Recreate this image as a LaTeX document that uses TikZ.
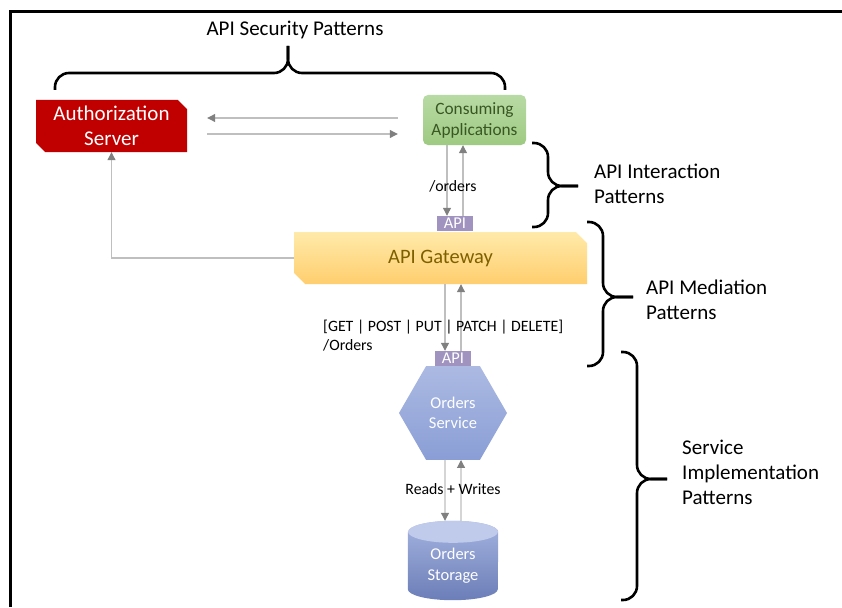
\documentclass[tikz,border=0pt]{standalone}
\usepackage{fontspec}
\setmainfont{Carlito}
\usetikzlibrary{arrows.meta,shapes.geometric,shapes.misc}
\definecolor{authred}{RGB}{192,0,0}
\definecolor{consA}{RGB}{184,218,164}
\definecolor{consB}{RGB}{158,202,130}
\definecolor{consText}{RGB}{56,87,35}
\definecolor{gwA}{RGB}{255,234,170}
\definecolor{gwB}{RGB}{255,206,110}
\definecolor{gwText}{RGB}{127,96,0}
\definecolor{apiPurple}{RGB}{160,147,192}
\definecolor{svcA}{RGB}{172,186,226}
\definecolor{svcB}{RGB}{138,158,214}
\definecolor{storeA}{RGB}{164,179,223}
\definecolor{storeB}{RGB}{108,126,184}
\definecolor{storeLid}{RGB}{192,203,236}

\begin{document}
\begin{tikzpicture}[x=1pt,y=-1pt,
  lbl/.style={font=\fontsize{21}{25}\selectfont,align=left,inner sep=0pt},
  small/.style={font=\fontsize{15.8}{19}\selectfont,align=left,inner sep=0pt},
  snip/.style={chamfered rectangle,chamfered rectangle corners={north east,south west},inner sep=0pt,align=center},
  authbox/.style={snip,chamfered rectangle xsep=6pt,fill=authred,text=white,minimum width=151pt,minimum height=52pt,font=\fontsize{21}{25}\selectfont},
  consbox/.style={rectangle,rounded corners=5pt,top color=consA,bottom color=consB,text=consText,minimum width=103pt,minimum height=50pt,align=center,inner sep=0pt,font=\fontsize{17.3}{21}\selectfont},
  gwbox/.style={snip,chamfered rectangle xsep=8pt,top color=gwA,bottom color=gwB,text=gwText,minimum width=293pt,minimum height=52pt,font=\fontsize{20.5}{25}\selectfont},
  apibox/.style={rectangle,fill=apiPurple,text=white,minimum width=36pt,minimum height=15pt,inner sep=0pt,font=\fontsize{16.5}{15}\selectfont},
  svcbox/.style={regular polygon,regular polygon sides=6,minimum size=108pt,inner sep=0pt,top color=svcA,bottom color=svcB,text=white,align=center,font=\fontsize{16.5}{20}\selectfont},
  storebox/.style={rectangle,minimum width=90pt,minimum height=68pt,inner sep=0pt,text=white,align=center,font=\fontsize{16.5}{21}\selectfont},
  flow/.style={draw=black!25,line width=1.1pt,-{Triangle[length=8pt,width=8pt,color=black!50]}},
  brc/.style={line width=2.6pt,rounded corners=14pt}]
  \useasboundingbox (0,0) rectangle (842,607);
  % frame
  \draw[line width=3pt] (10,607) -- (10,12) -- (842,12);

  % nodes
  \node[authbox] (auth) at (111.5,126) {Authorization\\Server};
  \node[consbox] (cons) at (474.5,120) {Consuming\\Applications};
  \node[apibox] (api1) at (455,223.5) {API};
  \node[gwbox] (gw) at (440.5,258) {API Gateway};
  \node[apibox] (api2) at (453,358.5) {API};
  \node[svcbox] (svc) at (453,413) {Orders\\Service};
  % storage cylinder round the text node
  \node[storebox] (store) at (453,566) {};
  \shade[top color=storeA,bottom color=storeB] (store.north west) -- ([yshift=11pt]store.south west)
    arc (180:0:45 and 11) -- (store.north east) arc (0:-180:45 and 11) -- cycle;
  \fill[storeLid] (store.north) ellipse (45 and 11);
  \node[storebox] at (store.center) {Orders\\Storage};

  % connectors
  \draw[flow] ([xshift=-25pt,yshift=2pt]cons.west) -- ([xshift=20pt,yshift=2pt]auth.east |- cons.west);
  \draw[flow] ([xshift=20pt,yshift=-14pt]auth.east |- cons.west) -- ([xshift=-25pt,yshift=-14pt]cons.west);
  \draw[flow] ([xshift=-8pt]api1.north |- cons.south) -- ([xshift=-8pt]api1.north);
  \draw[flow] ([xshift=8pt]api1.north) -- ([xshift=8pt]api1.north |- cons.south);
  \draw[flow] (gw.west) -| (auth.south);
  \draw[flow] ([xshift=-8pt]api2.north |- gw.south) -- ([xshift=-8pt]api2.north);
  \draw[flow] ([xshift=8pt]api2.north) -- ([xshift=8pt]api2.north |- gw.south);
  \draw[flow] ([xshift=-8pt]svc.south) -- ([xshift=-8pt,yshift=11pt]store.north);
  \draw[flow] ([xshift=8pt,yshift=11pt]store.north) -- ([xshift=8pt]svc.south);

  % connector labels
  \node[small] (ordersLbl) at (453,186) {/orders};
  \node[small,anchor=west] (verbsLbl) at (323,335.5) {[GET | POST | PUT | PATCH | DELETE]\\/Orders};
  \node[small] (rwLbl) at (453,489) {Reads + Writes};

  % braces and pattern groups
  \draw[brc] (55,90) |- (288,73) -- (288,46);
  \draw[brc] (505,90) |- (288,73) -- (288,46);
  \node[lbl] (secLbl) at (295,30) {API Security Patterns};

  \draw[brc] (532,143) -| (548,186) -- (578,186);
  \draw[brc] (532,227) -| (548,186) -- (578,186);
  \node[lbl,anchor=west] (interLbl) at (594,184) {API Interaction\\Patterns};

  \draw[brc] (587,222) -| (603,297) -- (633,297);
  \draw[brc] (587,366) -| (603,297) -- (633,297);
  \node[lbl,anchor=west] (medLbl) at (646,300) {API Mediation\\Patterns};

  \draw[brc] (621,352) -| (637,479) -- (667,479);
  \draw[brc] (621,600) -| (637,479) -- (667,479);
  \node[lbl,anchor=west] (implLbl) at (682,472) {Service\\Implementation\\Patterns};
\end{tikzpicture}
\end{document}
